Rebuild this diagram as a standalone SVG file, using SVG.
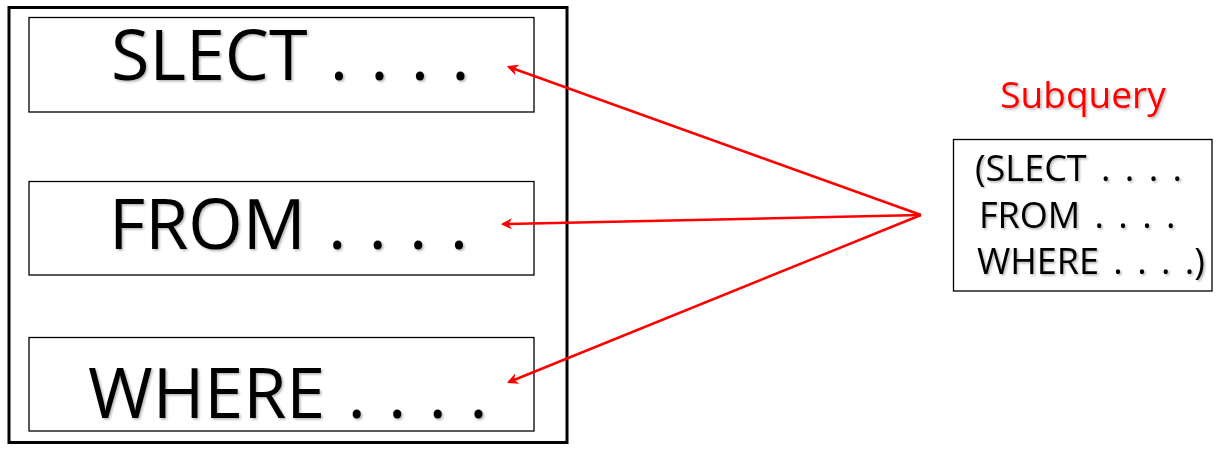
<svg xmlns="http://www.w3.org/2000/svg" width="1225" height="454" viewBox="0 0 1225 454">
<style>
.box{fill:#fff;stroke:#000;stroke-width:1.3}
.outer{fill:#fff;stroke:#000;stroke-width:3}
.big{font-family:"Open Sans","Noto Sans",sans-serif;font-size:70px;fill:#000;word-spacing:4px;filter:url(#sh)}
.small{font-family:"Open Sans","Noto Sans",sans-serif;font-size:36px;fill:#000;word-spacing:5px;filter:url(#sh)}
.title{font-family:"Open Sans","Noto Sans",sans-serif;font-size:37px;fill:#ff0000;filter:url(#sh)}
.conn{stroke:#ff0000;stroke-width:2.5;fill:none;marker-end:url(#ah)}
</style>
<defs>
<filter id="sh" x="-10%" y="-10%" width="130%" height="130%">
<feDropShadow dx="1.5" dy="1.5" stdDeviation="1" flood-color="#000" flood-opacity="0.3"/>
</filter>
<marker id="ah" viewBox="0 0 10 10" refX="8" refY="5" markerWidth="4.5" markerHeight="4.5" orient="auto" markerUnits="strokeWidth">
<path d="M0,0 L10,5 L0,10 L3,5 z" fill="#ff0000"/>
</marker>
</defs>
<rect width="1225" height="454" fill="#fff"/>
<g id="main">
<rect class="outer" x="9" y="7.5" width="558" height="435"/>
</g>
<g id="select">
<rect class="box" x="29" y="17.5" width="505" height="94.5"/>
<text class="big" x="111" y="80">SLECT . . . .</text>
</g>
<g id="from">
<rect class="box" x="29" y="181.5" width="505" height="93.5"/>
<text class="big" x="109" y="249">FROM . . . .</text>
</g>
<g id="where">
<rect class="box" x="29" y="337.5" width="505" height="93.5"/>
<text class="big" x="88" y="418">WHERE . . . .</text>
</g>
<g id="subquery">
<text class="title" x="1083" y="108" text-anchor="middle">Subquery</text>
<rect class="box" x="953.5" y="139.5" width="258.5" height="151.5"/>
<text class="small" x="975" y="181">(SLECT . . . .</text>
<text class="small" x="979" y="228">FROM . . . .</text>
<text class="small" x="977" y="274">WHERE . . . .)</text>
</g>
<g id="connectors">
<line class="conn" x1="921" y1="215" x2="509" y2="67"/>
<line class="conn" x1="921" y1="215" x2="503" y2="224"/>
<line class="conn" x1="921" y1="215" x2="509" y2="382"/>
</g>
</svg>
